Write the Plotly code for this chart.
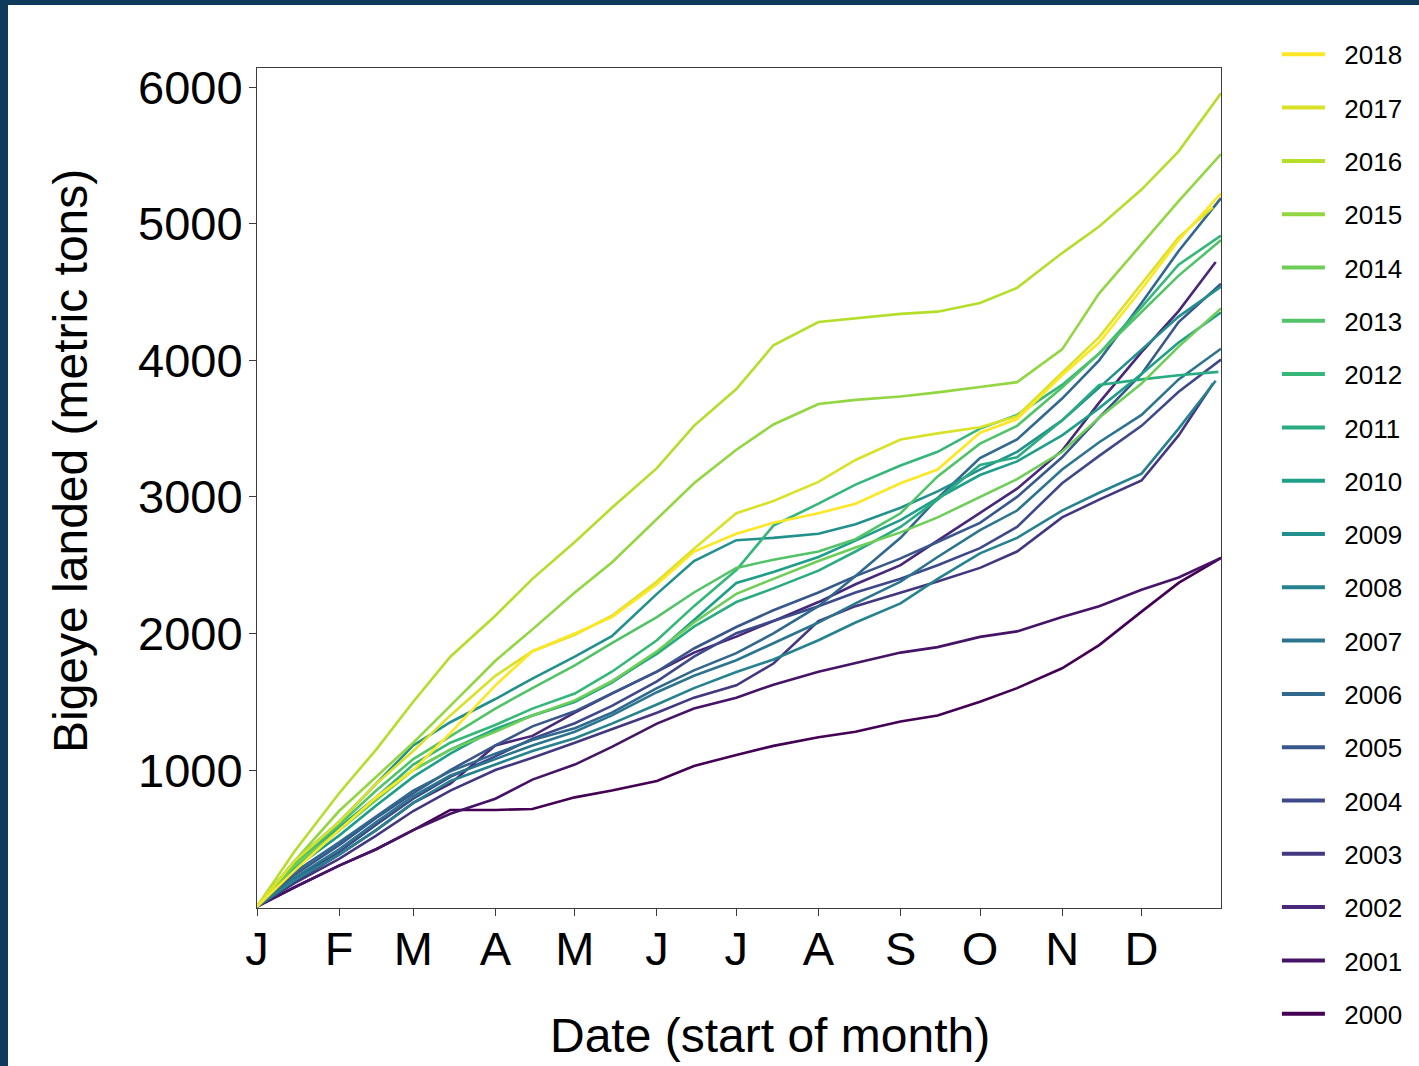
import plotly.graph_objects as go
from plotly.colors import sample_colorscale

# Sampling dates (1st and 15th of each month); the last point of each year uses END_DATES
DATES = [
    "2021-01-01", "2021-01-15", "2021-02-01", "2021-02-15", "2021-03-01", "2021-03-15",
    "2021-04-01", "2021-04-15", "2021-05-01", "2021-05-15", "2021-06-01", "2021-06-15",
    "2021-07-01", "2021-07-15", "2021-08-01", "2021-08-15", "2021-09-01", "2021-09-15",
    "2021-10-01", "2021-10-15", "2021-11-01", "2021-11-15", "2021-12-01", "2021-12-15",
]

YEARS = list(range(2000, 2019))
END_DATES = [
    "2021-12-31", "2021-12-31", "2021-12-29", "2021-12-28", "2021-12-31", "2021-12-31",
    "2021-12-31", "2021-12-31", "2021-12-29", "2021-12-31", "2021-12-31", "2021-12-30",
    "2021-12-31", "2021-12-31", "2021-12-31", "2021-12-31", "2021-12-31", "2021-12-28",
    "2021-12-31",
]

# Cumulative bigeye landings (metric tons)
y2000 = [0, 140, 300, 420, 560, 708, 708, 715, 800, 850, 920, 1030, 1111, 1177, 1240, 1280, 1355, 1400, 1500, 1600, 1745, 1915, 2160, 2370, 2553]
y2001 = [0, 140, 300, 420, 560, 680, 790, 930, 1040, 1170, 1340, 1450, 1530, 1625, 1720, 1785, 1860, 1900, 1975, 2015, 2120, 2200, 2320, 2410, 2553]
y2002 = [0, 180, 380, 560, 760, 900, 1180, 1250, 1420, 1560, 1720, 1860, 1977, 2090, 2230, 2360, 2500, 2680, 2880, 3060, 3340, 3690, 4060, 4360, 4720]
y2003 = [0, 170, 350, 520, 700, 850, 1000, 1090, 1200, 1300, 1420, 1530, 1620, 1780, 2090, 2200, 2300, 2380, 2480, 2600, 2850, 2980, 3120, 3450, 3830]
y2004 = [0, 200, 400, 600, 790, 950, 1100, 1230, 1343, 1470, 1650, 1830, 2002, 2090, 2200, 2300, 2400, 2500, 2625, 2780, 3100, 3300, 3520, 3770, 4005]
y2005 = [0, 230, 450, 650, 830, 1000, 1180, 1320, 1430, 1560, 1720, 1890, 2047, 2170, 2300, 2420, 2550, 2670, 2810, 3000, 3290, 3580, 3900, 4280, 4560]
y2006 = [0, 250, 470, 660, 850, 990, 1120, 1220, 1306, 1420, 1600, 1730, 1856, 2000, 2200, 2420, 2700, 2990, 3284, 3420, 3720, 4000, 4420, 4800, 5187]
y2007 = [0, 210, 420, 620, 810, 960, 1080, 1180, 1280, 1400, 1570, 1690, 1804, 1930, 2080, 2220, 2380, 2560, 2757, 2900, 3200, 3400, 3600, 3860, 4085]
y2008 = [0, 190, 380, 560, 760, 920, 1040, 1140, 1233, 1340, 1480, 1600, 1718, 1810, 1950, 2080, 2220, 2400, 2587, 2700, 2900, 3030, 3170, 3500, 3850]
y2009 = [0, 330, 620, 900, 1180, 1350, 1520, 1670, 1830, 1980, 2290, 2530, 2683, 2700, 2730, 2800, 2920, 3040, 3200, 3330, 3560, 3800, 4080, 4320, 4540]
y2010 = [0, 280, 520, 740, 950, 1120, 1300, 1400, 1500, 1640, 1860, 2100, 2370, 2450, 2560, 2680, 2830, 2990, 3160, 3260, 3450, 3650, 3900, 4130, 4350]
y2011 = [0, 300, 580, 800, 1000, 1150, 1300, 1400, 1500, 1650, 1850, 2050, 2230, 2330, 2460, 2600, 2780, 2980, 3233, 3290, 3560, 3820, 3860, 3890, 3915]
y2012 = [0, 280, 560, 800, 1040, 1200, 1330, 1450, 1560, 1720, 1950, 2200, 2464, 2790, 2950, 3090, 3230, 3330, 3500, 3600, 3820, 4050, 4390, 4700, 4913]
y2013 = [0, 320, 600, 850, 1080, 1250, 1450, 1600, 1767, 1930, 2120, 2300, 2480, 2540, 2600, 2690, 2880, 3150, 3390, 3520, 3800, 4050, 4350, 4620, 4880]
y2014 = [0, 300, 560, 780, 1000, 1150, 1280, 1400, 1510, 1650, 1870, 2080, 2290, 2400, 2530, 2630, 2740, 2850, 3000, 3130, 3330, 3580, 3830, 4100, 4380]
y2015 = [0, 330, 700, 950, 1200, 1470, 1800, 2030, 2300, 2520, 2840, 3100, 3345, 3530, 3680, 3710, 3735, 3765, 3805, 3840, 4080, 4490, 4850, 5165, 5510]
y2016 = [0, 400, 830, 1150, 1500, 1830, 2130, 2400, 2670, 2920, 3210, 3520, 3790, 4110, 4280, 4305, 4340, 4356, 4420, 4530, 4785, 4980, 5250, 5530, 5955]
y2017 = [0, 330, 620, 900, 1140, 1400, 1690, 1870, 1990, 2130, 2380, 2620, 2880, 2970, 3110, 3270, 3420, 3465, 3510, 3590, 3910, 4170, 4560, 4900, 5120]
y2018 = [0, 260, 560, 800, 1000, 1270, 1620, 1870, 2000, 2120, 2360, 2600, 2730, 2810, 2880, 2950, 3100, 3200, 3470, 3570, 3890, 4130, 4520, 4880, 5223]

SERIES = [y2000, y2001, y2002, y2003, y2004, y2005, y2006, y2007, y2008, y2009,
          y2010, y2011, y2012, y2013, y2014, y2015, y2016, y2017, y2018]

MONTH_TICKS = ["2021-%02d-01" % m for m in range(1, 13)]
MONTH_LABELS = ["J", "F", "M", "A", "M", "J", "J", "A", "S", "O", "N", "D"]
Y_TICKS = [1000, 2000, 3000, 4000, 5000, 6000]

FONT = "Arial, 'Liberation Sans', sans-serif"
NAVY = "#0e3a5b"
FRAME = "#3c3c3c"
NBSP = "\u00a0"

colors = sample_colorscale("Viridis", [i / (len(YEARS) - 1) for i in range(len(YEARS))])

fig = go.Figure()
for year, values, end, color in zip(YEARS, SERIES, END_DATES, colors):
    fig.add_trace(go.Scatter(
        x=DATES + [end], y=values, mode="lines",
        name=str(year), legendgroup=str(year), showlegend=False,
        line=dict(color=color, width=2.6),
    ))

# legend keys drawn with a heavier stroke than the data lines
for year, color in zip(YEARS, colors):
    fig.add_trace(go.Scatter(
        x=[None], y=[None], mode="lines",
        name=NBSP * 2 + str(year), legendgroup=str(year),
        legendrank=3000 - year,   # newest year listed first
        line=dict(color=color, width=4),
        hoverinfo="skip",
    ))

fig.update_layout(
    width=1419, height=1066, autosize=False,
    margin=dict(l=257, r=198, t=68, b=158, autoexpand=False),
    paper_bgcolor="white", plot_bgcolor="white",
    font=dict(family=FONT, color="black"),
    showlegend=True,
    legend=dict(
        x=1.058, xanchor="left", xref="paper",
        y=0.971, yanchor="top", yref="container",
        tracegroupgap=16.5,
        font=dict(size=26, family=FONT, color="black"),
        itemwidth=43, maxheight=1066,
        bgcolor="rgba(0,0,0,0)",
    ),
    xaxis=dict(
        type="date", range=["2021-01-01", "2021-12-31"],
        tickmode="array", tickvals=MONTH_TICKS, ticktext=MONTH_LABELS,
        ticks="outside", ticklen=7, tickwidth=1, tickcolor=FRAME,
        ticklabelstandoff=-7,
        showline=True, linecolor=FRAME, linewidth=1, mirror=True,
        showgrid=False, zeroline=False,
        tickfont=dict(size=47, family=FONT, color="black"),
    ),
    yaxis=dict(
        range=[-10, 6140],
        tickmode="array", tickvals=Y_TICKS,
        ticks="outside", ticklen=7, tickwidth=1, tickcolor=FRAME,
        ticklabelstandoff=-3,
        showline=True, linecolor=FRAME, linewidth=1, mirror=True,
        showgrid=False, zeroline=False,
        tickfont=dict(size=47, family=FONT, color="black"),
    ),
    annotations=[
        dict(text="Date (start of month)", xref="paper", yref="paper",
             x=(770 - 257) / 964, y=(908 - 1035) / 840,
             xanchor="center", yanchor="middle", showarrow=False,
             font=dict(size=48, family=FONT, color="black")),
        dict(text="Bigeye landed (metric tons)", xref="paper", yref="paper",
             x=(70 - 257) / 964, y=(908 - 461) / 840, textangle=-90,
             xanchor="center", yanchor="middle", showarrow=False,
             font=dict(size=48, family=FONT, color="black")),
    ],
    shapes=[
        # dark frame strips along the top and left edges of the page
        dict(type="rect", xref="paper", yref="paper", layer="above",
             x0=-0.3, x1=(8 - 257) / 964, y0=-0.3, y1=1.2,
             fillcolor=NAVY, line=dict(width=0)),
        dict(type="rect", xref="paper", yref="paper", layer="above",
             x0=-0.3, x1=1.3, y0=1 + (68 - 5) / 840, y1=1.2,
             fillcolor=NAVY, line=dict(width=0)),
    ],
)

fig.write_html("out.html")
